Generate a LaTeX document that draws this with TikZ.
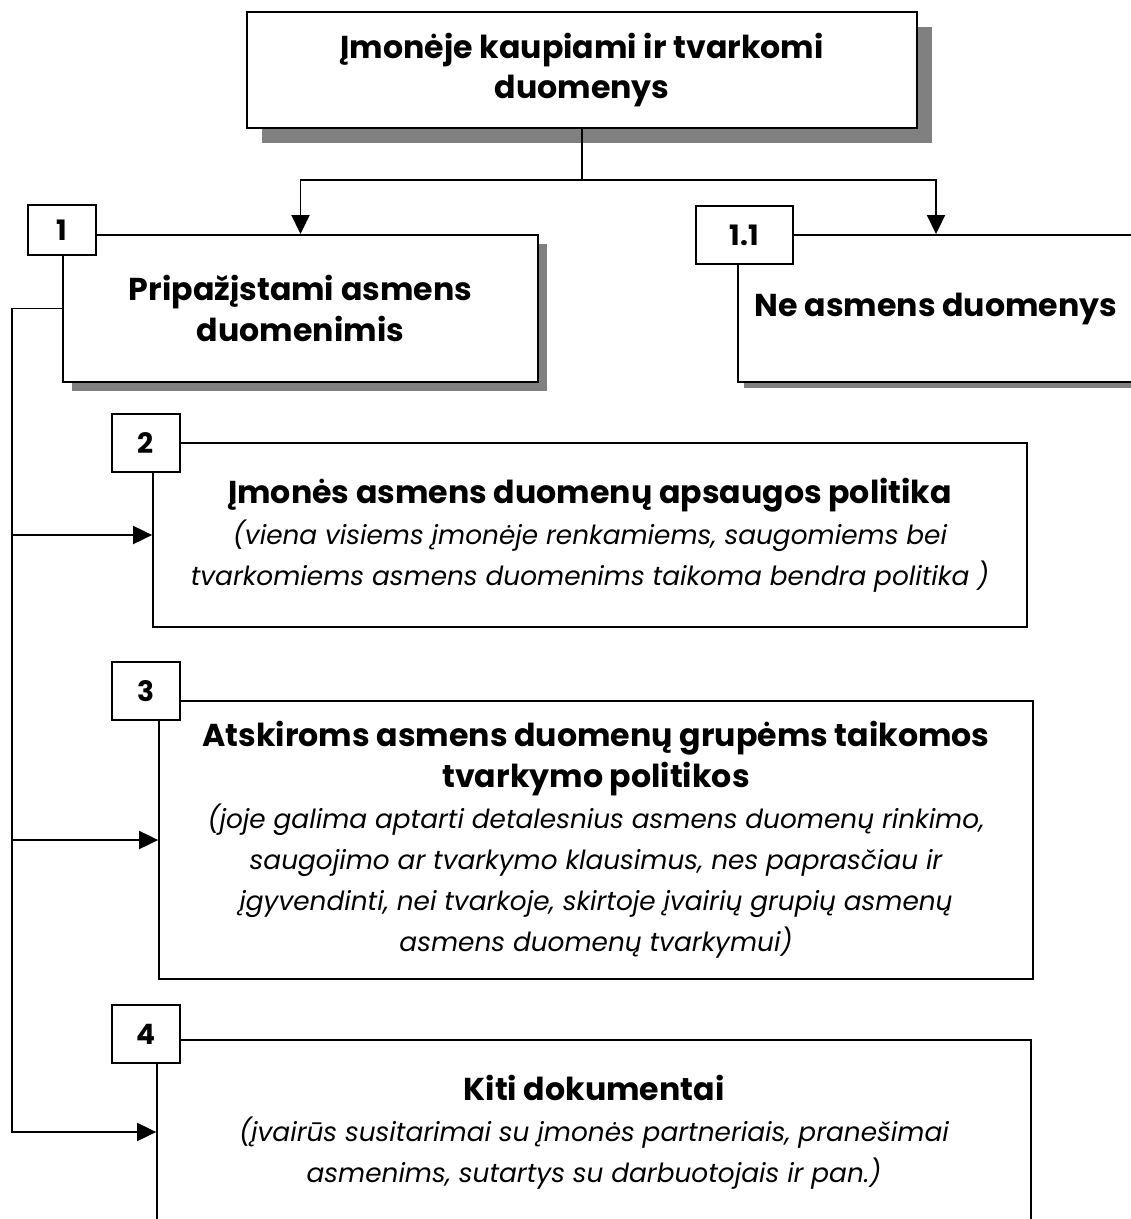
\documentclass[tikz,border=0pt]{standalone}
\usepackage{fontspec}
\setmainfont{Poppins}
\usetikzlibrary{arrows.meta, shadows}
\newcommand{\nt}[1]{{\mdseries\itshape\fontsize{15}{23.3}\selectfont #1}}

\begin{document}
\begin{tikzpicture}[x=0.02cm, y=-0.02cm, line width=1.1pt,
   box/.style={draw, fill=white, align=center, inner sep=0pt, font=\bfseries\fontsize{18}{23.3}\selectfont},
   shbox/.style={box, drop shadow={shadow xshift=#1, shadow yshift=-#1, fill=black!50, opacity=1}},
   tag/.style={draw, fill=white, inner sep=0pt, minimum width=1.36cm, minimum height=1.16cm, font=\bfseries\fontsize{16}{18}\selectfont},
   arr/.style={-{Triangle[length=0.38cm, width=0.36cm]}}]
  \path[fill=white, use as bounding box] (0,0) rectangle (1130,1219);
  % boxes
  \node[shbox=0.3cm, minimum width=13.4cm, minimum height=2.32cm] (top) at (582,70) {Įmonėje kaupiami ir tvarkomi\\duomenys};
  \node[shbox=0.18cm, minimum width=9.5cm, minimum height=2.94cm] (pers) at (300.5,308.5) {Pripažįstami asmens\\duomenimis};
  \node[shbox=0.12cm, minimum width=7.92cm, minimum height=2.94cm] (nonpers) at (936,308.5) {Ne asmens duomenys};
  \node[box, minimum width=17.48cm, minimum height=3.68cm] (policy) at (590,535) {Įmonės asmens duomenų apsaugos politika\\
    \nt{(viena visiems įmonėje renkamiems, saugomiems bei}\\ \nt{tvarkomiems asmens duomenims taikoma bendra politika )}};
  \node[box, minimum width=17.48cm, minimum height=5.56cm] (groups) at (596,840) {Atskiroms asmens duomenų grupėms taikomos\\ tvarkymo politikos\\
    \nt{(joje galima aptarti detalesnius asmens duomenų rinkimo,}\\ \nt{saugojimo ar tvarkymo klausimus, nes paprasčiau ir}\\
    \nt{įgyvendinti, nei tvarkoje, skirtoje įvairių grupių asmenų}\\ \nt{asmens duomenų tvarkymui)}};
  \node[box, minimum width=17.48cm, minimum height=3.68cm] (other) at (594,1132) {Kiti dokumentai\\
    \nt{(įvairūs susitarimai su įmonės partneriais, pranešimai}\\ \nt{asmenims, sutartys su darbuotojais ir pan.)}};
  % number tags
  \node[tag, minimum height=1cm] (t1) at (62,230) {1};
  \node[tag, minimum width=1.94cm] (t11) at (744.5,235) {1.1};
  \node[tag] (t2) at (146,443) {2};
  \node[tag] (t3) at (146,691) {3};
  \node[tag] (t4) at (146,1034) {4};
  % connectors
  \draw (top.south) -- (582,180) coordinate (split);
  \foreach \t in {pers, nonpers} \draw[arr] (split) -| (\t.north);
  \draw[arr] (pers.west) -- (12,308.5) coordinate (bus) |- (other.west);
  \foreach \t in {policy, groups} \draw[arr] (bus |- \t.west) -- (\t.west);
\end{tikzpicture}
\end{document}
